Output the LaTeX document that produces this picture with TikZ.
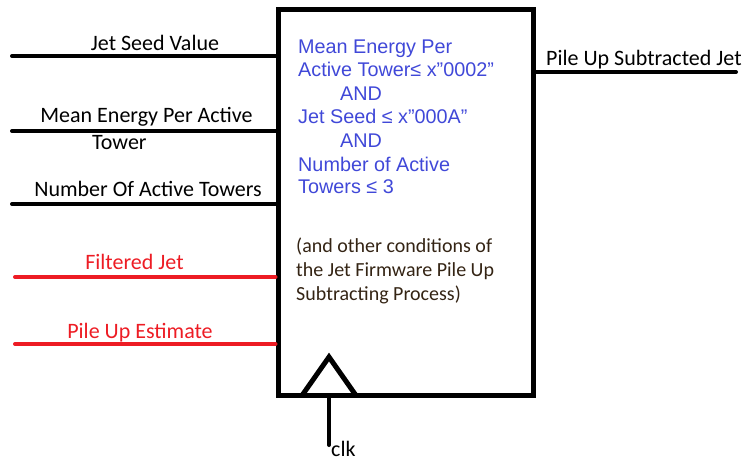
\documentclass[tikz,border=0pt]{standalone}
\usepackage{fontspec}
\setmainfont{Carlito}
\newfontfamily\arialfont{Liberation Sans}
\definecolor{cblue}{RGB}{64,72,216}
\definecolor{cred}{RGB}{237,28,36}
\definecolor{cbrown}{RGB}{52,36,20}
\tikzset{
  sig/.style={line width=4pt, line cap=round},
  lbl/.style={inner sep=0pt, anchor=base, font=\fontsize{22}{26}\selectfont},
  cnd/.style={inner sep=0pt, anchor=base west, text=cblue, font=\arialfont\fontsize{19.8}{24}\selectfont},
  note/.style={inner sep=0pt, anchor=base west, text=cbrown, font=\fontsize{20}{24}\selectfont}
}
\begin{document}
\begin{tikzpicture}[x=1pt,y=-1pt]
\useasboundingbox (0,0) rectangle (752,461);
\node (blk) [draw, line width=5pt, minimum width=255pt, minimum height=386pt, inner sep=0pt] at (405.5,202.5) {};
\coordinate (i1) at (12,56);
\coordinate (i2) at (12,131);
\coordinate (i3) at (12,204);
\coordinate (i4) at (15,277);
\coordinate (i5) at (15,344);
\coordinate (o1) at (736,72);
\coordinate (ck) at (329,445);
\coordinate (tl) at (302,395.5);
\coordinate (tr) at (356,395.5);
\coordinate (tt) at (329,357);
\draw [sig] (i1) -- (i1 -| blk.west);
\draw [sig] (i2) -- (i2 -| blk.west);
\draw [sig] (i3) -- (i3 -| blk.west);
\draw [sig, cred] (i4) -- (i4 -| blk.west);
\draw [sig, cred] (i5) -- (i5 -| blk.west);
\draw [sig] (o1 -| blk.east) -- (o1);
\draw [sig] (ck |- blk.south) -- (ck);
\draw [line width=5pt, line join=miter] (tl) -- (tt) -- (tr);
\node (l1) [lbl] at (155,50) {Jet Seed Value};
\node (l2) [lbl] at (146.5,122) {Mean Energy Per Active};
\node (l2b) [lbl, anchor=base west] at (92,149) {Tower};
\node (l3) [lbl] at (148,196) {Number Of Active Towers};
\node (l4) [lbl, text=cred] at (134.5,269) {Filtered Jet};
\node (l5) [lbl, text=cred] at (140,338) {Pile Up Estimate};
\node (lo) [lbl, anchor=base west] at (546,65) {Pile Up Subtracted Jet};
\node (lck) [lbl, anchor=base west] at (331,456) {clk};
\node (c1) [cnd] at (298,53) {Mean Energy Per};
\node (c2) [cnd] at (298,76) {Active Tower≤ x”0002”};
\node (c3) [cnd] at (340,100) {AND};
\node (c4) [cnd] at (298,123) {Jet Seed ≤ x”000A”};
\node (c5) [cnd] at (340,147) {AND};
\node (c6) [cnd] at (298,171) {Number of Active};
\node (c7) [cnd] at (298,193) {Towers ≤ 3};
\node (n1) [note] at (296,252) {(and other conditions of};
\node (n2) [note] at (296,276) {the Jet Firmware Pile Up};
\node (n3) [note] at (296,300) {Subtracting Process)};
\end{tikzpicture}
\end{document}
